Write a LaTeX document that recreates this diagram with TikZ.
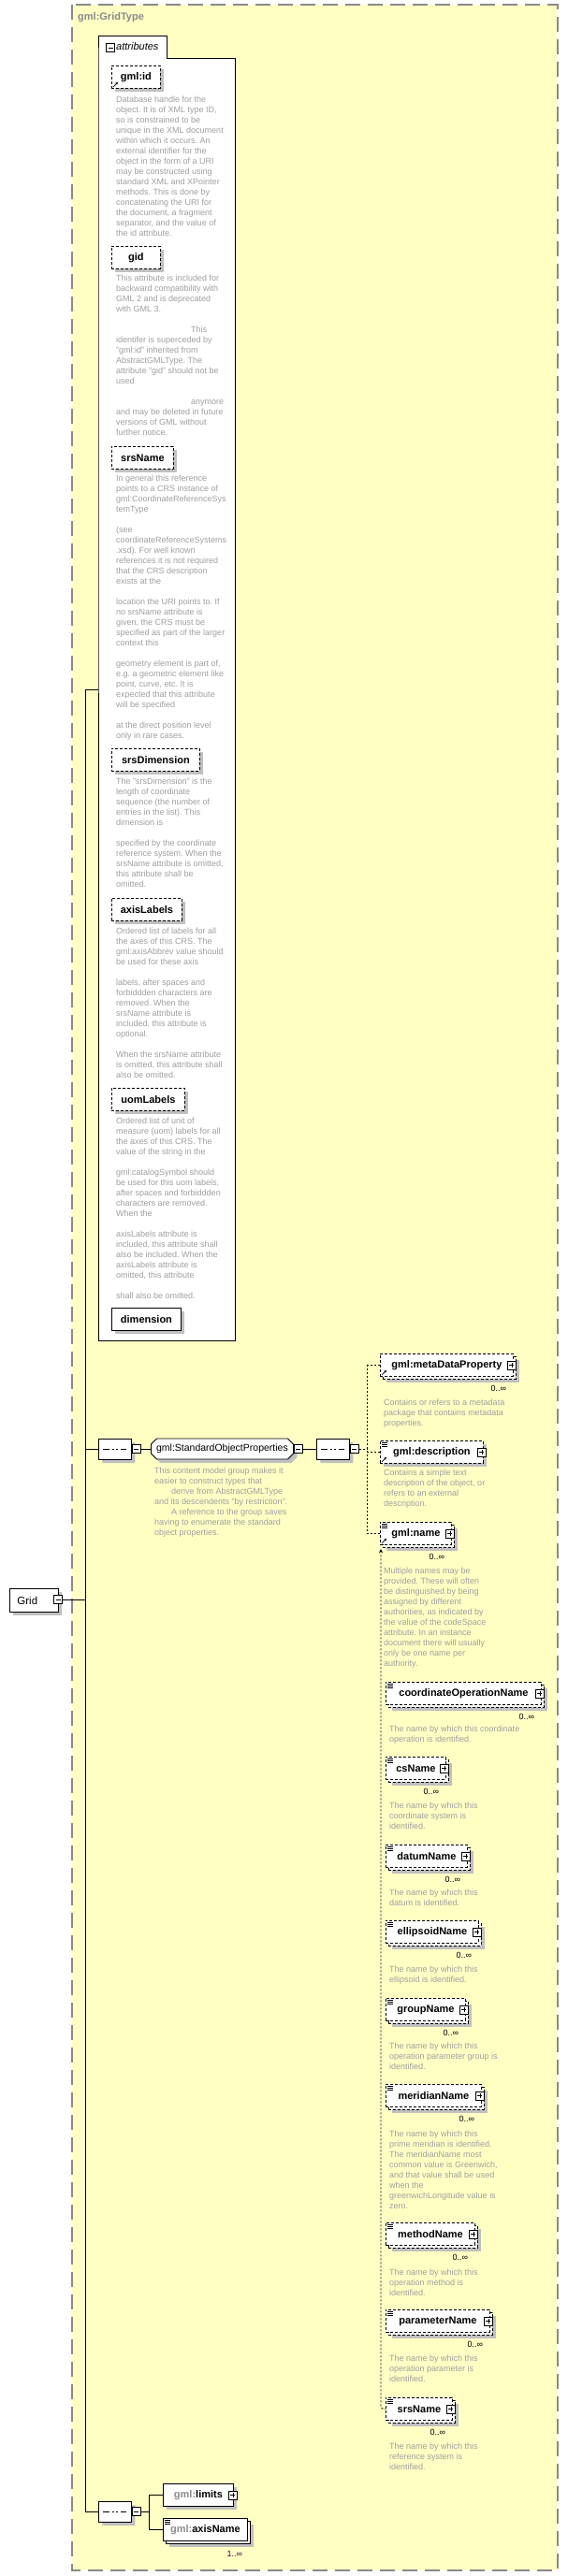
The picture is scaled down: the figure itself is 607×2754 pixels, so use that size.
\documentclass[tikz,border=0pt]{standalone}
\usepackage{fontspec}
\setmainfont{Liberation Sans}
\usetikzlibrary{arrows.meta,positioning,shapes.misc}
\definecolor{xsyellow}{HTML}{FFFFC4}
\definecolor{xsframe}{HTML}{8A8A8A}
\definecolor{xsshadow}{HTML}{C0C0C0}
\definecolor{xsnote}{HTML}{9F9F9F}
\definecolor{xsprefix}{HTML}{8C8C8C}
\definecolor{xsocc}{HTML}{400040}
\frenchspacing
\tikzset{
  elem/.style={draw, fill=white, line width=0.9pt, anchor=north west,
    font=\bfseries\fontsize{11}{13}\selectfont, minimum height=24pt,
    inner xsep=6pt, inner ysep=0pt},
  optl/.style={dash pattern=on 3pt off 2pt},
  dropshadow/.style={preaction={fill=xsshadow, draw=none,
    transform canvas={shift={(4pt,-4pt)}}}},
  stacked/.style={
    preaction={fill=xsshadow, draw=none, transform canvas={shift={(7pt,-7pt)}}},
    preaction={draw, fill=white, transform canvas={shift={(3pt,-3pt)}}}},
  note/.style={anchor=north west, inner sep=0pt, align=left, text=xsnote,
    font=\fontsize{9}{11}\selectfont, execute at begin node=\strut},
  occurs/.style={inner sep=0pt, font=\fontsize{9}{11}\selectfont},
  compositor/.style={chamfered rectangle, chamfered rectangle xsep=4pt,
    chamfered rectangle ysep=4pt, draw, fill=white, line width=0.9pt,
    minimum width=35pt, minimum height=22pt, inner sep=0pt, anchor=west,
    dropshadow,
    path picture={
      \draw[line width=0.9pt] ([xshift=5pt]path picture bounding box.west)
        -- ([xshift=-5pt]path picture bounding box.east);
      \foreach \d in {-4.5,0,4.5}
        \fill ([xshift=\d pt]path picture bounding box.center)
          +(-1.3pt,-1.3pt) rectangle +(1.3pt,1.3pt);
    }},
  grp/.style={chamfered rectangle, chamfered rectangle xsep=3pt,
    chamfered rectangle ysep=3pt, draw, fill=white, line width=0.9pt,
    minimum width=152pt, minimum height=22pt, inner xsep=2pt, inner ysep=0pt,
    anchor=west, font=\fontsize{10.5}{12}\selectfont, dropshadow},
  btnminus/.style={draw, fill=white, line width=0.8pt, minimum size=9pt,
    inner sep=0pt,
    path picture={\draw[line width=0.8pt]
      ([xshift=2pt]path picture bounding box.west)
      -- ([xshift=-2pt]path picture bounding box.east);}},
  btnplus/.style={draw, fill=white, line width=0.8pt, minimum size=9pt,
    inner sep=0pt,
    path picture={\draw[line width=0.8pt]
      ([xshift=2pt]path picture bounding box.west)
      -- ([xshift=-2pt]path picture bounding box.east)
      ([yshift=-2pt]path picture bounding box.north)
      -- ([yshift=2pt]path picture bounding box.south);}},
  link/.style={line width=0.9pt},
  dotline/.style={line width=0.9pt, dash pattern=on 2pt off 2pt},
  refarrow/.style={-{Stealth[length=3pt,width=3pt]}, line width=0.7pt},
  pics/txticon/.style={code={
    \foreach \d in {2,4,6} \draw[line width=0.6pt] (2pt,{-\d pt}) -- (8pt,{-\d pt});}}
}

\begin{document}
\begin{tikzpicture}[x=1pt,y=-1pt]
\useasboundingbox (0,0) rectangle (607,2754);

% complex type frame
\draw[xsframe, fill=xsyellow, line width=1.5pt, dash pattern=on 16pt off 8pt]
  (77,5) rectangle (596,2748);
\node[anchor=west, inner sep=0pt, text=xsframe, font=\bfseries\fontsize{11}{13}\selectfont]
  (gridtype) at (83,19) {gml:GridType};

% root element
\node[elem, dropshadow, font=\fontsize{11.5}{13}\selectfont, minimum height=25pt,
  text width=36pt, inner xsep=8pt, align=left] (grid) at (10,1698) {Grid};
\node[btnminus] (gridbtn) at (62,1710) {};

\coordinate (spinetop) at (91,737);
\coordinate (spinebot) at (91,2685);

% attributes block
\node[fill=white, minimum width=146pt, minimum height=1371pt, anchor=north west,
  inner sep=0pt] (attrs) at (105,62) {};
\node[fill=white, minimum width=73pt, minimum height=24pt, anchor=north west,
  inner sep=0pt] (attrtab) at (105,38) {};
\draw[link] (attrtab.south west) |- (attrtab.north east) |- (attrs.north east)
  |- (attrs.south west) -- cycle;
\node[btnminus] (attrbtn) at (118,51) {};
\node[anchor=west, inner sep=0pt, font=\itshape\fontsize{11}{13}\selectfont]
  (attrlabel) at (124,50) {attributes};

\node[elem, optl, dropshadow, minimum width=52pt] (gmlid) at (119,70) {gml:id};
\draw[refarrow] ([shift={(2pt,2pt)}]gmlid.south west) -- ++(5pt,5pt);
\node[note] (gmlidnote) at (124,102.3) {Database handle for the\\
object.  It is of XML type ID,\\
so is constrained to be\\
unique in the XML document\\
within which it occurs.  An\\
external identifier for the\\
object in the form of a URI\\
may be constructed using\\
standard XML and XPointer\\
methods.  This is done by\\
concatenating the URI for\\
the document, a fragment\\
separator, and the value of\\
the id attribute.};

\node[elem, optl, dropshadow, minimum width=52pt] (gid) at (119,263) {gid};
\node[note] (gidnote) at (124,293.3) {This attribute is included for\\
backward compatibility with\\
GML 2 and is deprecated\\
with GML 3.\\[11pt]
\hspace*{80pt}This\\
identifer is superceded by\\
"gml:id" inherited from\\
AbstractGMLType. The\\
attribute "gid" should not be\\
used\\[11pt]
\hspace*{80pt}anymore\\
and may be deleted in future\\
versions of GML without\\
further notice.};

\node[elem, optl, dropshadow, minimum width=66pt] (srsname) at (119,477) {srsName};
\node[note] (srsnamenote) at (124,507.3) {In general this reference\\
points to a CRS instance of\\
gml:CoordinateReferenceSys\\
temType\\[11pt]
(see\\
coordinateReferenceSystems\\
.xsd). For well known\\
references it is not required\\
that the CRS description\\
exists at the\\[11pt]
location the URI points to. If\\
no srsName attribute is\\
given, the CRS must be\\
specified as part of the larger\\
context this\\[11pt]
geometry element is part of,\\
e.g. a geometric element like\\
point, curve, etc. It is\\
expected that this attribute\\
will be specified\\[11pt]
at the direct position level\\
only in rare cases.};

\node[elem, optl, dropshadow, minimum width=94pt] (srsdim) at (119,800) {srsDimension};
\node[note] (srsdimnote) at (124,831.8) {The "srsDimension" is the\\
length of coordinate\\
sequence (the number of\\
entries in the list). This\\
dimension is\\[11pt]
specified by the coordinate\\
reference system. When the\\
srsName attribute is omitted,\\
this attribute shall be\\
omitted.};

\node[elem, optl, dropshadow, minimum width=75pt] (axislabels) at (119,960) {axisLabels};
\node[note] (axislabelsnote) at (124,991.3) {Ordered list of labels for all\\
the axes of this CRS. The\\
gml:axisAbbrev value should\\
be used for these axis\\[11pt]
labels, after spaces and\\
forbiddden characters are\\
removed. When the\\
srsName attribute is\\
included, this attribute is\\
optional.\\[11pt]
When the srsName attribute\\
is omitted, this attribute shall\\
also be omitted.};

\node[elem, optl, dropshadow, minimum width=78pt] (uomlabels) at (119,1163) {uomLabels};
\node[note] (uomlabelsnote) at (124,1194.3) {Ordered list of unit of\\
measure (uom) labels for all\\
the axes of this CRS. The\\
value of the string in the\\[11pt]
gml:catalogSymbol should\\
be used for this uom labels,\\
after spaces and forbiddden\\
characters are removed.\\
When the\\[11pt]
axisLabels attribute is\\
included, this attribute shall\\
also be included. When the\\
axisLabels attribute is\\
omitted, this attribute\\[11pt]
shall also be omitted.};

\node[elem, dropshadow, minimum width=74pt] (dimension) at (119,1398) {dimension};

% standard object properties
\node[compositor] (seqA) at (105,1549) {};
\node[btnminus] (seqAbtn) at ([xshift=5pt]seqA.east) {};
\node[grp] (stdprops) at (161,1549) {gml:StandardObjectProperties};
\node[btnminus] (stdpropsbtn) at ([xshift=5pt]stdprops.east) {};
\node[note] (stdpropsnote) at (165,1568.3) {This content model group makes it\\
easier to construct types that\\
\hspace*{18pt}derive from AbstractGMLType\\
and its descendents "by restriction".\\
\hspace*{18pt}A reference to the group saves\\
having to enumerate the standard\\
object properties.};
\node[compositor] (seqB) at (338,1549) {};
\node[btnminus] (seqBbtn) at ([xshift=5pt]seqB.east) {};
\coordinate (branch) at (392,1549);

\node[elem, optl, stacked, minimum width=142pt] (meta) at (406,1447) {gml:metaDataProperty};
\node[btnplus] at ([xshift=-2pt]meta.east) {};
\draw[refarrow] ([shift={(2pt,2pt)}]meta.south west) -- ++(5pt,5pt);
\node[occurs] at ([shift={(-16pt,-12pt)}]meta.south east) {0..∞};
\node[note] (metanote) at (410,1495.3) {Contains or refers to a metadata\\
package that contains metadata\\
properties.};

\node[elem, optl, dropshadow, minimum width=110pt] (descr) at (406,1540) {gml:description};
\node[btnplus] at ([xshift=-2pt]descr.east) {};
\pic at (descr.north west) {txticon};
\draw[refarrow] ([shift={(2pt,2pt)}]descr.south west) -- ++(5pt,5pt);
\node[note] (descrnote) at (410,1571) {Contains a simple text\\
description of the object, or\\
refers to an external\\
description.};

\node[elem, optl, stacked, minimum width=76pt] (name) at (406,1627) {gml:name};
\node[btnplus] at ([xshift=-2pt]name.east) {};
\pic at (name.north west) {txticon};
\draw[refarrow] ([shift={(2pt,2pt)}]name.south west) -- ++(5pt,5pt);
\node[occurs] at ([shift={(-16pt,-12pt)}]name.south east) {0..∞};
\node[note] (namenote) at (410,1675.3) {Multiple names may be\\
provided.  These will often\\
be distinguished by being\\
assigned by different\\
authorities, as indicated by\\
the value of the codeSpace\\
attribute.  In an instance\\
document there will usually\\
only be one name per\\
authority.};

% substitution group of gml:name
\foreach \id/\ytop/\w/\lbl/\ynote/\txt in {
  coordop/1798/166/coordinateOperationName/1844.3/{The name by which this coordinate\\operation is identified.},
  csname/1878/64/csName/1926.3/{The name by which this\\coordinate system is\\identified.},
  datumname/1972/87/datumName/2019.3/{The name by which this\\datum is identified.},
  ellipsoidname/2053/99/ellipsoidName/2101.8/{The name by which this\\ellipsoid is identified.},
  groupname/2136/85/groupName/2183.5/{The name by which this\\operation parameter group is\\identified.},
  meridianname/2228/102/meridianName/2277.3/{The name by which this\\prime meridian is identified.\\The meridianName most\\common value is Greenwich,\\and that value shall be used\\when the\\greenwichLongitude value is\\zero.},
  methodname/2376/95/methodName/2425.3/{The name by which this\\operation method is\\identified.},
  paramname/2469/111/parameterName/2518/{The name by which this\\operation parameter is\\identified.},
  refsysname/2563/71/srsName/2611.3/{The name by which this\\reference system is\\identified.}}
{
  \node[elem, optl, stacked, minimum width=\w pt] (\id) at (412,\ytop) {\lbl};
  \node[btnplus] at ([xshift=-2pt]\id.east) {};
  \pic at (\id.north west) {txticon};
  \node[occurs] at ([shift={(-16pt,-12pt)}]\id.south east) {0..∞};
  \node[note] (\id note) at (416,\ynote) {\txt};
}
\coordinate (substtop) at (407,1656);

% limits and axis names
\node[compositor] (seqC) at (105,2685) {};
\node[btnminus] (seqCbtn) at ([xshift=5pt]seqC.east) {};
\coordinate (fork) at (159,2685);
\node[elem, dropshadow, minimum width=75pt] (limits) at (174,2655)
  {\textcolor{xsprefix}{gml:}limits};
\node[btnplus] at ([xshift=-1pt]limits.east) {};
\node[elem, stacked, minimum width=90pt] (axisname) at (174,2692)
  {\textcolor{xsprefix}{gml:}axisName};
\pic at (axisname.north west) {txticon};
\node[occurs, text=xsocc] at ([shift={(-14pt,-13pt)}]axisname.south east) {1..∞};

% connectors
\draw[link] (spinetop) -- (spinebot);
\draw[link] (gridbtn.east) -- (gridbtn.east -| spinetop);
\draw[link] (spinetop) -- (spinetop -| attrs.west);
\draw[link] (seqA.west -| spinetop) -- (seqA.west);
\draw[link] (seqAbtn.east) -- (stdprops.west);
\draw[link] (stdpropsbtn.east) -- (seqB.west);
\draw[dotline] (seqBbtn.east) -- (branch);
\draw[dotline] (branch |- meta.west) -- (branch |- name.west);
\foreach \n in {meta,descr,name}
  \draw[dotline] (branch |- \n.west) -- (\n.west);
\draw[dotline, {Stealth[length=4pt,width=4pt]}-, rounded corners=3pt]
  (substtop) |- (refsysname.west);
\draw[link] (spinebot) -- (seqC.west);
\draw[link] (seqCbtn.east) -- (fork);
\draw[link] (fork |- limits.west) -- (fork |- axisname.west);
\draw[link] (fork |- limits.west) -- (limits.west);
\draw[link] (fork |- axisname.west) -- (axisname.west);

\end{tikzpicture}
\end{document}
